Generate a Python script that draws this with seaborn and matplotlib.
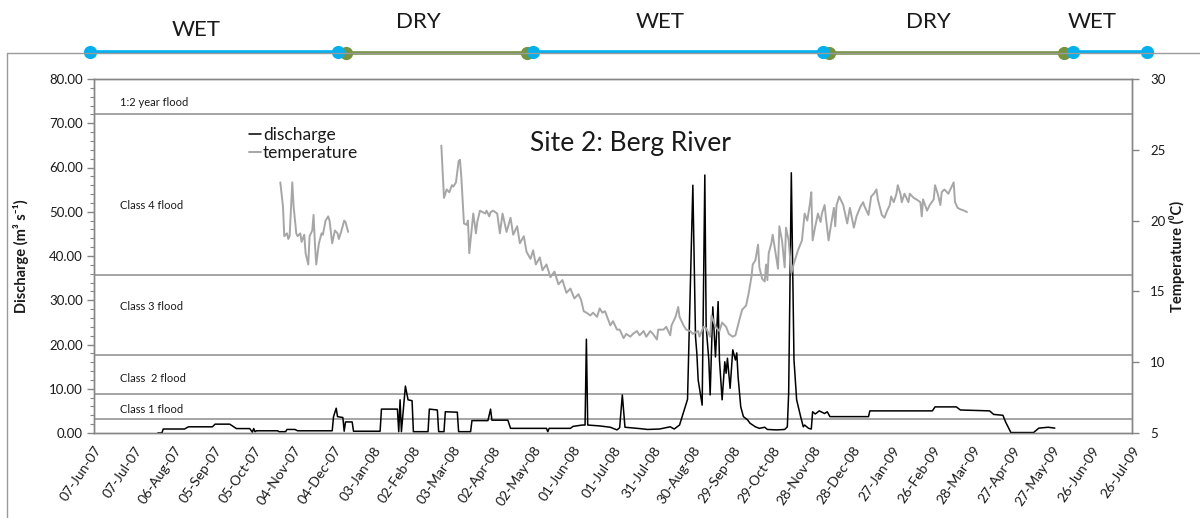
import numpy as np
import pandas as pd
import matplotlib
matplotlib.use("Agg")
import matplotlib.pyplot as plt
import matplotlib.transforms as mtransforms
from matplotlib.lines import Line2D
import seaborn as sns

# Gauging record starts 07-Jun-2007; observations are keyed by day number since then
record_start = "2007-06-07"

discharge_day = [48, 51, 52, 68, 71, 89, 91, 102, 107, 117, 119, 120, 121, 122, 138, 139, 144, 145,
                 151, 153, 179, 180, 182, 183, 187, 188, 189, 194, 195, 215, 216, 228, 229, 230,
                 231, 234, 236, 239, 240, 251, 252, 258, 259, 263, 264, 273, 274, 283, 284, 296,
                 298, 299, 311, 313, 340, 341, 342, 358, 360, 367, 369, 370, 371, 380, 388, 393,
                 395, 397, 399, 410, 416, 425, 433, 436, 440, 446, 450, 452, 453, 454, 457, 459,
                 460, 462, 463, 465, 467, 469, 470, 472, 474, 475, 476, 478, 480, 482, 483, 484,
                 486, 488, 491, 493, 497, 500, 504, 506, 513, 519, 521, 522, 524, 526, 528, 531,
                 533, 534, 537, 539, 540, 542, 545, 549, 551, 553, 582, 583, 630, 632, 648, 651,
                 673, 676, 683, 685, 689, 706, 710, 717, 722]
discharge_m3s = [0.0, 0.0, 0.9, 0.9, 1.4, 1.4, 2.0, 2.0, 1.0, 1.0, 0.2, 1.0, 0.3, 0.5, 0.5, 0.3, 0.3, 0.8,
                 0.8, 0.5, 0.5, 3.7, 5.6, 3.7, 3.5, 0.4, 2.5, 2.5, 0.4, 0.4, 5.4, 5.4, 0.3, 7.5,
                 0.3, 10.6, 7.5, 7.3, 0.3, 0.3, 5.4, 5.2, 0.3, 0.3, 4.8, 4.7, 0.3, 0.3, 2.8, 2.8,
                 5.4, 2.9, 2.9, 1.05, 1.05, 0.3, 1.05, 1.05, 1.5, 1.8, 1.8, 21.2, 1.8, 1.6, 1.3, 0.7,
                 1.2, 8.6, 1.3, 1.0, 0.8, 0.9, 1.4, 0.9, 1.8, 7.6, 56.0, 21.8, 18.0, 12.0, 6.3, 58.3,
                 24.0, 16.5, 8.6, 28.5, 17.2, 29.7, 16.5, 7.5, 16.1, 13.5, 16.9, 10.1, 18.8, 16.5, 18.1, 12.7,
                 5.9, 3.7, 3.0, 2.2, 1.4, 1.05, 1.3, 0.8, 0.7, 0.8, 1.4, 9.0, 58.8, 16.5, 7.5, 3.7,
                 1.4, 1.8, 1.05, 0.9, 4.8, 4.3, 5.0, 4.4, 4.8, 3.7, 3.7, 5.0, 5.0, 5.9, 5.9, 5.2,
                 5.0, 4.2, 4.0, 2.5, 0.1, 0.1, 1.1, 1.3, 1.1]

# Water temperature logger: two deployments
temp_run1_day = [140, 142, 143, 145, 146, 147, 149, 150, 152, 153, 155, 156, 158, 159, 161, 162, 164,
                 165, 166, 167, 169, 171, 172, 174, 176, 177, 179, 181, 183, 184, 186, 188, 189, 191]
temp_run1_c = [22.7, 21.0, 18.9, 19.1, 18.7, 18.9, 22.7, 21.0, 19.1, 18.9, 19.1, 18.5, 19.0, 17.7, 16.9,
               18.9, 19.3, 20.4, 18.4, 16.9, 18.4, 19.1, 19.0, 20.0, 20.3, 20.0, 18.4, 19.3, 19.1, 18.7,
               19.3, 20.0, 19.9, 19.2]

temp_run2_day = [261, 263, 265, 267, 269, 270, 272, 274, 275, 276, 278, 280, 281, 282, 284, 285, 287,
                 288, 290, 292, 294, 295, 297, 298, 300, 303, 305, 307, 310, 313, 315, 318, 320, 323,
                 325, 328, 330, 332, 335, 337, 340, 343, 346, 349, 352, 355, 358, 361, 364, 366, 368,
                 370, 373, 375, 378, 380, 382, 384, 386, 388, 390, 393, 395, 397, 398, 400, 403, 405,
                 408, 410, 413, 415, 418, 420, 423, 424, 428, 430, 433, 434, 437, 439, 440, 443, 445,
                 448, 450, 454, 455, 458, 460, 463, 464, 467, 470, 472, 475, 477, 480, 482, 485, 487,
                 490, 492, 494, 495, 497, 499, 500, 502, 504, 505, 506, 507, 509, 510, 512, 514, 515,
                 517, 519, 520, 522, 524, 526, 529, 532, 534, 536, 538, 539, 540, 542, 544, 546, 547,
                 549, 550, 552, 554, 556, 557, 558, 560, 563, 566, 568, 571, 573, 576, 578, 579, 582,
                 584, 586, 588, 589, 592, 594, 596, 598, 599, 601, 603, 604, 606, 607, 609, 612, 613,
                 616, 618, 621, 622, 623, 626, 628, 631, 632, 634, 636, 637, 639, 642, 644, 646, 647,
                 649, 651, 654, 656]
temp_run2_c = [25.3, 21.6, 22.2, 22.0, 22.5, 22.4, 22.7, 24.2, 24.3, 23.1, 19.8, 19.7, 20.0, 17.7, 19.6,
               20.5, 19.1, 19.9, 20.7, 20.6, 20.5, 20.7, 20.3, 20.6, 20.7, 20.5, 19.1, 20.5, 19.2, 20.2,
               19.0, 19.6, 18.4, 18.9, 17.8, 17.3, 17.9, 16.9, 17.4, 16.5, 16.9, 16.0, 16.4, 15.5, 15.8,
               14.9, 15.2, 14.5, 14.8, 14.4, 13.6, 13.5, 13.3, 13.5, 13.2, 13.8, 13.5, 13.6, 13.1, 12.6,
               12.9, 12.3, 12.3, 11.9, 11.7, 12.0, 11.8, 12.0, 12.2, 11.9, 12.2, 11.8, 12.2, 12.0, 11.6,
               12.3, 12.3, 12.5, 11.9, 12.6, 13.2, 13.9, 13.2, 12.6, 12.3, 12.2, 12.0, 12.2, 11.8, 12.5,
               12.4, 11.8, 13.3, 12.5, 12.2, 12.8, 12.5, 12.0, 11.8, 11.9, 13.0, 13.7, 14.0, 14.9, 16.0,
               16.9, 17.2, 18.3, 16.7, 15.9, 15.7, 16.9, 15.8, 17.7, 18.4, 19.0, 17.8, 16.6, 19.6, 18.6,
               16.7, 19.5, 18.6, 16.3, 17.0, 17.9, 18.6, 20.5, 20.0, 21.2, 22.0, 18.6, 19.6, 20.5, 19.9,
               20.5, 21.1, 20.2, 18.6, 19.8, 20.9, 19.6, 21.1, 21.7, 21.1, 19.8, 20.9, 19.5, 20.3, 21.0,
               21.3, 21.0, 20.4, 21.7, 21.9, 22.2, 21.5, 20.4, 20.2, 20.7, 21.1, 21.7, 21.3, 21.9, 22.5,
               21.9, 21.3, 21.9, 21.3, 21.9, 21.6, 21.5, 21.3, 20.3, 21.5, 20.7, 21.1, 21.5, 22.5, 21.9,
               21.1, 22.0, 22.2, 21.9, 22.3, 22.7, 21.3, 20.9, 20.8, 20.7, 20.6]

# Flood class thresholds (m3/s), lower bound of each class
flood_names = ["Class 1 flood", "Class  2 flood", "Class 3 flood", "Class 4 flood", "1:2 year flood"]
flood_lower = [3.2, 8.8, 17.6, 35.8, 72.2]

# Hydrological seasons
season_names = ["WET", "DRY", "WET", "DRY", "WET"]
season_start = ["2007-06-04", "2007-12-13", "2008-05-02", "2008-12-10", "2009-06-12"]
season_end = ["2007-12-07", "2008-04-27", "2008-12-06", "2009-06-05", "2009-08-06"]

x_tick_labels = ["07-Jun-07", "07-Jul-07", "06-Aug-07", "05-Sep-07", "05-Oct-07", "04-Nov-07",
                 "04-Dec-07", "03-Jan-08", "02-Feb-08", "03-Mar-08", "02-Apr-08", "02-May-08",
                 "01-Jun-08", "01-Jul-08", "31-Jul-08", "30-Aug-08", "29-Sep-08", "29-Oct-08",
                 "28-Nov-08", "28-Dec-08", "27-Jan-09", "26-Feb-09", "28-Mar-09", "27-Apr-09",
                 "27-May-09", "26-Jun-09", "26-Jul-09"]
left_ticks = [0, 10, 20, 30, 40, 50, 60, 70, 80]
right_ticks = [5, 10, 15, 20, 25, 30]

# ---------------------------------------------------------------- data frames
t0 = pd.Timestamp(record_start)


def to_dates(days):
    return t0 + pd.to_timedelta(np.asarray(days), unit="D")


flow = pd.DataFrame({"date": to_dates(discharge_day), "discharge": discharge_m3s})
temp = pd.concat([
    pd.DataFrame({"date": to_dates(temp_run1_day), "temperature": temp_run1_c, "run": 1}),
    pd.DataFrame({"date": to_dates(temp_run2_day), "temperature": temp_run2_c, "run": 2}),
], ignore_index=True)
tick_dates = pd.to_datetime(x_tick_labels, format="%d-%b-%y")

# ---------------------------------------------------------------- style
sns.set_style("white")
plt.rcParams["font.family"] = ["Lato", "DejaVu Sans"]
AXIS_GREY = "#868686"
TEXT = "#1a1a1a"
BLUE = "#00B0F0"
GREEN = "#77933C"
TEMP_GREY = "#A6A6A6"

W, H = 1200, 518
fig = plt.figure(figsize=(W / 100, H / 100), dpi=100)
fig.patch.set_facecolor("white")

# chart frame
FRAME_TOP = 53
fig.add_artist(Line2D([7 / W, 1.0], [1 - FRAME_TOP / H] * 2, color="#9a9a9a", lw=1.0))
fig.add_artist(Line2D([7 / W, 7 / W], [0.0, 1 - FRAME_TOP / H], color="#9a9a9a", lw=1.0))

ax = fig.add_axes([94 / W, 1 - 433 / H, 1038 / W, 354 / H])
ax2 = ax.twinx()

# flood class lines
for lo in flood_lower:
    ax.axhline(lo, color="#8c8c8c", lw=1.1, zorder=1)

sns.lineplot(data=flow, x="date", y="discharge", ax=ax, color="black", lw=1.1,
             estimator=None, legend=False, zorder=3)
sns.lineplot(data=temp, x="date", y="temperature", units="run", estimator=None, ax=ax2,
             color=TEMP_GREY, lw=1.4, legend=False)

# axes ranges / ticks
ax.set_xlim(tick_dates[0], tick_dates[-1])
ax.set_ylim(0, 80)
ax2.set_ylim(5, 30)
ax.set_xticks(tick_dates)
ax.set_xticklabels(x_tick_labels, rotation=56, ha="right", rotation_mode="anchor",
                   fontsize=10, color=TEXT)
ax.set_yticks(left_ticks)
ax.set_yticklabels([f"{v:.2f}" for v in left_ticks], fontsize=9.5, color=TEXT)
ax.set_yticks(np.arange(0, 81, 2), minor=True)
ax2.set_yticks(right_ticks)
ax2.set_yticklabels([str(v) for v in right_ticks], fontsize=9.5, color=TEXT)

for a in (ax, ax2):
    for s in a.spines.values():
        s.set_color(AXIS_GREY)
        s.set_linewidth(1.0)
ax.tick_params(axis="both", which="major", direction="out", length=5, width=1,
               color=AXIS_GREY, pad=3)
ax.tick_params(axis="y", which="minor", direction="out", length=3, width=0.8,
               color=AXIS_GREY, left=True)
ax2.tick_params(axis="y", direction="out", length=5, width=1, color=AXIS_GREY, pad=8)

ax.set_xlabel("")
ax.set_ylabel("Discharge (m³ s⁻¹)", fontsize=10.5, fontweight="bold", color=TEXT)
ax.yaxis.set_label_coords(-0.063, 0.5)
ax2.set_ylabel("Temperature (⁰C)", fontsize=10.5, fontweight="bold", color=TEXT)
ax2.yaxis.set_label_coords(1.036, 0.5)

# flood class labels, placed inside their bands
label_height = [5.4, 12.4, 28.7, 51.3, 74.6]
blend = mtransforms.blended_transform_factory(ax.transAxes, ax.transData)
for name, yv in zip(flood_names, label_height):
    ax.text(0.025, yv, name, transform=blend, fontsize=8, color=TEXT,
            ha="left", va="center")

ax.text(0.517, 0.818, "Site 2: Berg River", transform=ax.transAxes, fontsize=19,
        ha="center", va="center", color=TEXT)

handles = [Line2D([], [], color="black", lw=1.1), Line2D([], [], color=TEMP_GREY, lw=1.4)]
ax2.legend(handles, ["discharge", "temperature"], loc="upper left", frameon=False,
           bbox_to_anchor=(249 / W, 1 - 127 / H), bbox_transform=fig.transFigure,
           fontsize=12.5, handlelength=0.7, handletextpad=0.1, labelspacing=0.12,
           borderpad=0, borderaxespad=0, labelcolor=TEXT)

# season strip above the plot, on the same date axis
sax = fig.add_axes([94 / W, 1 - 80 / H, 1038 / W, 80 / H], sharex=ax)
sax.set_ylim(80, 0)
sax.axis("off")
for i, (name, s, e) in enumerate(zip(season_names, season_start, season_end)):
    s, e = pd.Timestamp(s), pd.Timestamp(e)
    wet = name == "WET"
    col = BLUE if wet else GREEN
    y = FRAME_TOP - 1.5 if wet else FRAME_TOP - 0.2
    sax.plot([s, e], [y, y], color=col, lw=2.6, marker="o", ms=8.5,
             clip_on=False, solid_capstyle="butt", zorder=3 if wet else 2)
    mid = s + (e - s) / 2
    off = mtransforms.offset_copy(sax.transData, fig=fig, x=-18, y=0, units="dots")
    sax.text(mid, 30 if i == 0 else 21.5, name, transform=off, fontsize=16,
             ha="center", va="center", color=TEXT, clip_on=False)

fig.savefig("out.png", dpi=100, facecolor="white")
